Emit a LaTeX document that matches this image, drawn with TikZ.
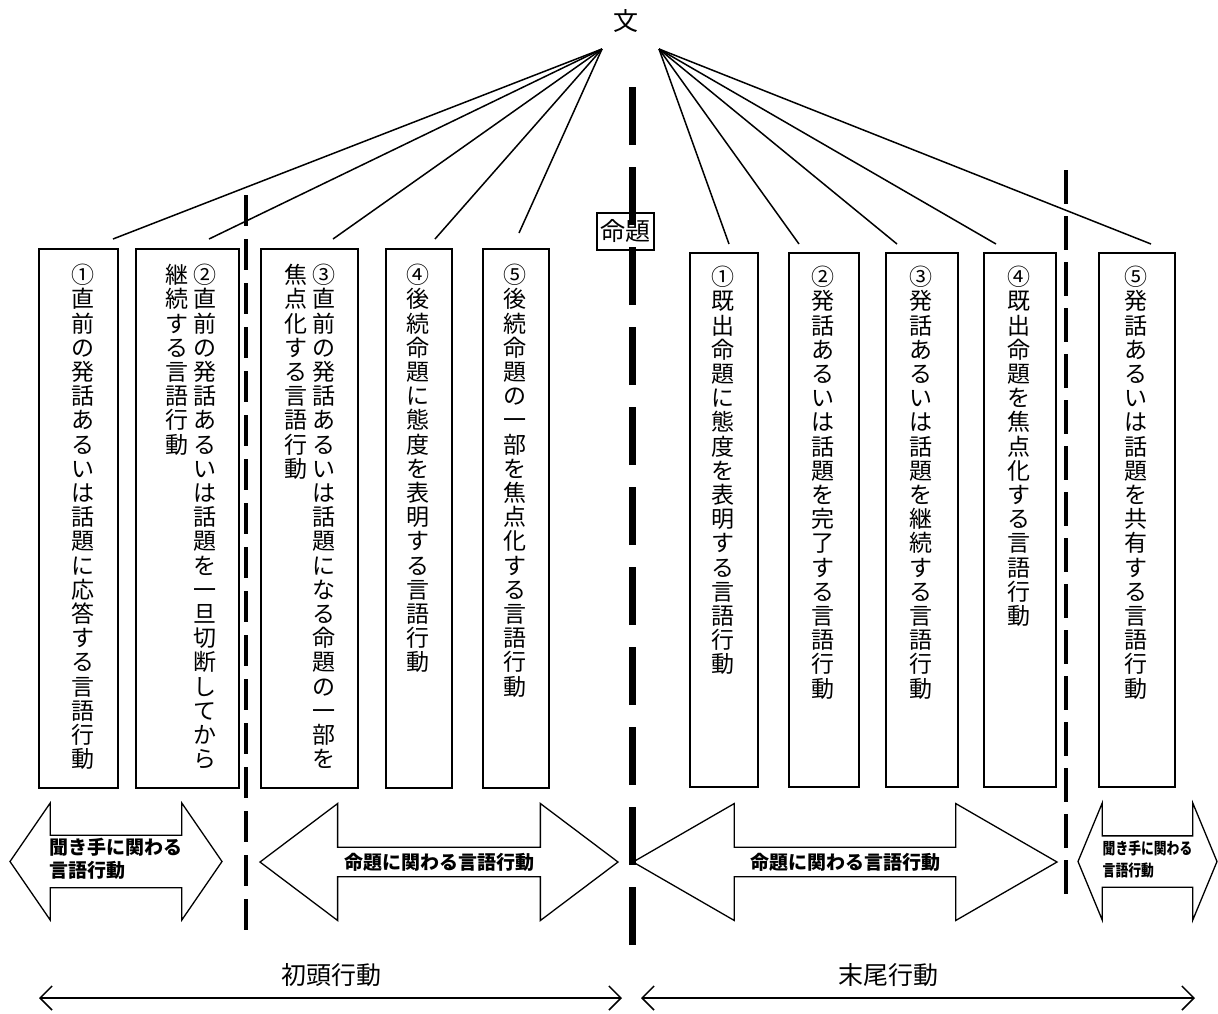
\documentclass[tikz,border=0pt]{standalone}
\usepackage{fontspec}
\setmainfont{Noto Sans CJK JP}
\usetikzlibrary{arrows.meta,positioning,shapes.arrows}
\ExplSyntaxOn
\NewDocumentCommand\tatecol{m}
 {
  \vtop
   {
    \baselineskip=24.2pt \lineskiplimit=-\maxdimen
    \tl_map_inline:nn {#1} { \hbox to 1em { \hss ##1 \hss } }
   }
 }
\ExplSyntaxOff
\tikzset{
 waku/.style={draw,line width=1.5pt,minimum width=#1,anchor=north west,inner sep=0pt},
 tate/.style={anchor=north,inner sep=0pt,font=\fontsize{23}{24.2}\selectfont},
 yaji/.style={double arrow,draw,line width=1.3pt,inner sep=0pt,double arrow head extend=29pt,minimum width=117pt,font=\bfseries\fontsize{19}{22}\selectfont},
 kugiri/.style={line width=3.3pt,dash pattern=on 31pt off 13pt},
}

\begin{document}
\begin{tikzpicture}[x=1pt,y=-1pt,>={Straight Barb[length=12pt,width=24pt]}]
\useasboundingbox (0,0) rectangle (1218,1013);
\node[font=\fontsize{25}{25}\selectfont] (bun) at (626,21) {文};
\coordinate (fl) at (602,49);\coordinate (fr) at (659,49);
% fan
\coordinate (e1) at (113,239);\coordinate (e2) at (209,239);\coordinate (e3) at (333,239);
\coordinate (e4) at (435,239);\coordinate (e5) at (519,233);
\coordinate (f1) at (729,244);\coordinate (f2) at (799,244);\coordinate (f3) at (897,244);
\coordinate (f4) at (996,244);\coordinate (f5) at (1151,244);
\foreach \p in {e1,e2,e3,e4,e5} \draw[line width=1.5pt] (fl)--(\p);
\foreach \p in {f1,f2,f3,f4,f5} \draw[line width=1.5pt] (fr)--(\p);
% boxes left
\node[waku=79,minimum height=539] (b1) at (38,248) {};
\node[waku=103,minimum height=539] (b2) at (135,248) {};
\node[waku=97,minimum height=539] (b3) at (260,248) {};
\node[waku=66,minimum height=539] (b4) at (385,248) {};
\node[waku=66,minimum height=539] (b5) at (482,248) {};
\node[tate] (t1) at (83,264) {\tatecol{①直前の発話あるいは話題に応答する言語行動}};
\node[tate] (t2) at (191,264) {\tatecol{継続する言語行動}\hspace{5pt}\tatecol{②直前の発話あるいは話題を一旦切断してから}};
\node[tate] (t3) at (310,264) {\tatecol{焦点化する言語行動}\hspace{5pt}\tatecol{③直前の発話あるいは話題になる命題の一部を}};
\node[tate] (t4) at (418,264) {\tatecol{④後続命題に態度を表明する言語行動}};
\node[tate] (t5) at (515,264) {\tatecol{⑤後続命題の一部を焦点化する言語行動}};
% boxes right
\node[waku=68,minimum height=534] (c1) at (689,252) {};
\node[waku=70,minimum height=534] (c2) at (788,252) {};
\node[waku=72,minimum height=534] (c3) at (885,252) {};
\node[waku=72,minimum height=534] (c4) at (983,252) {};
\node[waku=76,minimum height=534] (c5) at (1098,252) {};
\node[tate] (u1) at (723,266) {\tatecol{①既出命題に態度を表明する言語行動}};
\node[tate] (u2) at (823,266) {\tatecol{②発話あるいは話題を完了する言語行動}};
\node[tate] (u3) at (921,266) {\tatecol{③発話あるいは話題を継続する言語行動}};
\node[tate] (u4) at (1019,266) {\tatecol{④既出命題を焦点化する言語行動}};
\node[tate] (u5) at (1136,266) {\tatecol{⑤発話あるいは話題を共有する言語行動}};
% proposition
\node[draw,line width=1.3pt,inner sep=1pt,minimum width=57,minimum height=37,font=\fontsize{25}{25}\selectfont] (mei) at (625.5,231.5) {命題};
\draw[kugiri] (246,195)--(246,930);
\draw[kugiri,dash pattern=on 34pt off 12pt] (1066,170)--(1066,903);
\draw[line width=7pt,dash pattern=on 58pt off 22pt] (632,945)--(632,81);
% big arrows
\node[yaji,minimum height=212,double arrow tip angle=111] (a1) at (116,861.5)
 {\makebox[0pt]{\begin{tabular}{@{}l@{}}聞き手に関わる\\言語行動\end{tabular}}};
\node[yaji,minimum height=358,double arrow tip angle=74] (a2) at (439,862) {\makebox[0pt]{命題に関わる言語行動}};
\node[yaji,minimum height=424,double arrow tip angle=60] (a3) at (845,862) {\makebox[0pt]{命題に関わる言語行動}};
\node[yaji,minimum height=139,double arrow tip angle=135,font=\bfseries\fontsize{16}{22}\selectfont] (a4) at (1147.5,861.5)
 {\makebox[0pt]{\scalebox{.8}[1]{\begin{tabular}{@{}l@{}}聞き手に関わる\\言語行動\end{tabular}}}};
% bottom
\node[font=\fontsize{25}{25}\selectfont] (sho) at (331,975) {初頭行動};
\node[font=\fontsize{25}{25}\selectfont] (mat) at (888,975) {末尾行動};
\coordinate (s0) at (39,998);\coordinate (s1) at (622,998);
\coordinate (m0) at (641,998);\coordinate (m1) at (1195,998);
\draw[<->,line width=1.5pt] (s0)--(s1);
\draw[<->,line width=1.5pt] (m0)--(m1);
\end{tikzpicture}
\end{document}
